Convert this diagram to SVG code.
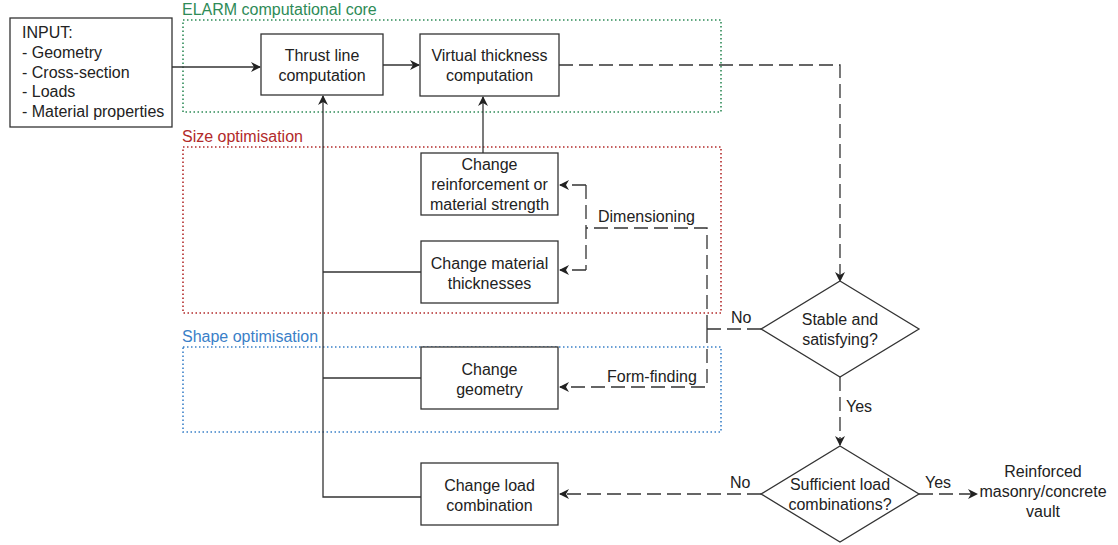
<svg xmlns="http://www.w3.org/2000/svg" width="1118" height="545" viewBox="0 0 1118 545">
<defs>
<style>
text{font-family:"Liberation Sans",Arial,sans-serif;font-size:16px;fill:#222}
.c{text-anchor:middle}
.box{fill:#fff;stroke:#333;stroke-width:1.3}
.ln{fill:none;stroke:#333;stroke-width:1.3}
.dash{fill:none;stroke:#333;stroke-width:1.3;stroke-dasharray:14 6}
.grp{fill:none;stroke-width:1.6;stroke-dasharray:1.5 2.5}
</style>
<marker id="ah" viewBox="0 0 10 10" refX="9" refY="5" markerWidth="10" markerHeight="10" markerUnits="userSpaceOnUse" orient="auto">
<path d="M0,0 L10,5 L0,10 L3,5 Z" fill="#222"/>
</marker>
</defs>
<rect width="1118" height="545" fill="#fff"/>

<g id="groups">
<rect class="grp" x="183" y="20" width="538" height="92" stroke="#2e8b57"/>
<text x="182" y="15" style="fill:#2e8b57">ELARM computational core</text>
<rect class="grp" x="183" y="147" width="538" height="166" stroke="#b22a2a"/>
<text x="182" y="142" style="fill:#b22a2a">Size optimisation</text>
<rect class="grp" x="183" y="347" width="538" height="85" stroke="#3a80c8"/>
<text x="182" y="342" style="fill:#3a80c8">Shape optimisation</text>
</g>

<g id="connectors">
<line class="ln" x1="172" y1="67" x2="260" y2="67" marker-end="url(#ah)"/>
<line class="ln" x1="383" y1="65" x2="419" y2="65" marker-end="url(#ah)"/>
<polyline class="dash" points="559,65 840,65 840,281" marker-end="url(#ah)"/>
<line class="ln" x1="483" y1="153" x2="483" y2="97" marker-end="url(#ah)"/>
<polyline class="ln" points="421,272 323,272"/>
<polyline class="ln" points="421,378 323,378"/>
<polyline class="ln" points="421,497 323,497 323,96" marker-end="url(#ah)"/>
<line class="dash" x1="761" y1="329" x2="707" y2="329"/>
<polyline class="dash" points="707,329 707,228 586,228"/>
<polyline class="dash" points="586,185 586,270"/>
<line class="dash" x1="586" y1="185" x2="560" y2="185" marker-end="url(#ah)"/>
<line class="dash" x1="586" y1="270" x2="560" y2="270" marker-end="url(#ah)"/>
<polyline class="dash" points="707,329 707,387 560,387" marker-end="url(#ah)"/>
<line class="dash" x1="840" y1="377" x2="840" y2="445" marker-end="url(#ah)"/>
<line class="dash" x1="761" y1="494" x2="560" y2="494" marker-end="url(#ah)"/>
<line class="dash" x1="919" y1="494" x2="977" y2="494" marker-end="url(#ah)"/>
<text x="731" y="323">No</text>
<text x="846" y="412">Yes</text>
<text x="730" y="488">No</text>
<text x="925" y="488">Yes</text>
<text x="598" y="222">Dimensioning</text>
<text x="607" y="382">Form-finding</text>
</g>

<g id="input">
<rect class="box" x="10" y="18" width="162" height="109"/>
<text x="22" y="38">INPUT:</text>
<text x="22" y="58">- Geometry</text>
<text x="22" y="78">- Cross-section</text>
<text x="22" y="97">- Loads</text>
<text x="22" y="117">- Material properties</text>
</g>

<g id="thrust">
<rect class="box" x="261" y="34" width="122" height="61"/>
<text class="c" x="322" y="61">Thrust line</text>
<text class="c" x="322" y="81">computation</text>
</g>

<g id="virtual">
<rect class="box" x="420" y="34" width="139" height="62"/>
<text class="c" x="489.5" y="61">Virtual thickness</text>
<text class="c" x="489.5" y="81">computation</text>
</g>

<g id="reinforcement">
<rect class="box" x="421" y="153" width="137" height="62"/>
<text class="c" x="489.5" y="170">Change</text>
<text class="c" x="489.5" y="190">reinforcement or</text>
<text class="c" x="489.5" y="210">material strength</text>
</g>

<g id="thickness">
<rect class="box" x="421" y="241" width="137" height="62"/>
<text class="c" x="489.5" y="269">Change material</text>
<text class="c" x="489.5" y="289">thicknesses</text>
</g>

<g id="geometry">
<rect class="box" x="421" y="347" width="137" height="62"/>
<text class="c" x="489.5" y="375">Change</text>
<text class="c" x="489.5" y="395">geometry</text>
</g>

<g id="load">
<rect class="box" x="421" y="463" width="137" height="62"/>
<text class="c" x="489.5" y="491">Change load</text>
<text class="c" x="489.5" y="511">combination</text>
</g>

<g id="stable">
<polygon class="box" points="840,281 919,329 840,377 761,329"/>
<text class="c" x="840" y="325">Stable and</text>
<text class="c" x="840" y="345">satisfying?</text>
</g>

<g id="sufficient">
<polygon class="box" points="840,446 919,494 840,542 761,494"/>
<text class="c" x="840" y="490">Sufficient load</text>
<text class="c" x="840" y="510">combinations?</text>
</g>

<g id="result">
<text class="c" x="1043" y="477">Reinforced</text>
<text class="c" x="1043" y="497">masonry/concrete</text>
<text class="c" x="1043" y="517">vault</text>
</g>
</svg>
